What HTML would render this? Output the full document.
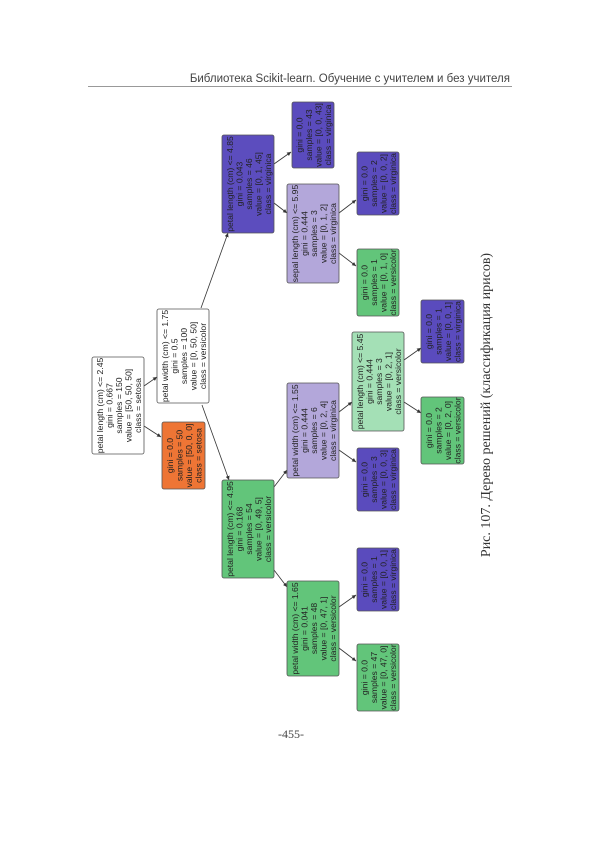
<!DOCTYPE html>
<html><head><meta charset="utf-8"><style>
html,body{margin:0;padding:0;background:#fff;}
svg{display:block;}
.t{font-family:"Liberation Sans",sans-serif;font-size:8.6px;fill:#222;text-anchor:middle;}
</style></head><body>
<svg width="600" height="849" viewBox="0 0 600 849" xmlns="http://www.w3.org/2000/svg">
<defs><marker id="a" markerWidth="6" markerHeight="6" refX="5" refY="3" orient="auto"><path d="M0,0.5 L5,3 L0,5.5 z" fill="#333"/></marker></defs>
<text x="510" y="82" font-family="Liberation Sans, sans-serif" font-size="11.5" fill="#444" text-anchor="end">Библиотека Scikit-learn. Обучение с учителем и без учителя</text>
<line x1="88" y1="86.5" x2="512" y2="86.5" stroke="#777" stroke-width="0.8"/>
<g stroke="#333" stroke-width="0.8" marker-end="url(#a)">
<line x1="144" y1="386" x2="157" y2="377"/>
<line x1="144" y1="426" x2="161" y2="437"/>
<line x1="201" y1="308" x2="228" y2="233"/>
<line x1="202" y1="405" x2="229" y2="480"/>
<line x1="274" y1="164" x2="291" y2="152"/>
<line x1="274" y1="203" x2="287" y2="213"/>
<line x1="339" y1="213" x2="356" y2="200"/>
<line x1="339" y1="253" x2="356" y2="266"/>
<line x1="274" y1="487" x2="287" y2="470"/>
<line x1="274" y1="570" x2="287" y2="587"/>
<line x1="339" y1="412" x2="352" y2="402"/>
<line x1="339" y1="450" x2="356" y2="462"/>
<line x1="404" y1="360" x2="421" y2="348"/>
<line x1="404" y1="402" x2="421" y2="413"/>
<line x1="339" y1="607" x2="356" y2="595"/>
<line x1="339" y1="648" x2="356" y2="661"/>
</g>
<g stroke="#555" stroke-width="0.8">
<rect x="92" y="357" width="52" height="97" rx="2" fill="#fff"/>
<rect x="157" y="309" width="52" height="94" rx="2" fill="#fff"/>
<rect x="162" y="422" width="43" height="67" rx="2" fill="#ee7535"/>
<rect x="222" y="135" width="52" height="98" rx="2" fill="#5c4dbe"/>
<rect x="222" y="480" width="52" height="98" rx="2" fill="#62c57a"/>
<rect x="292" y="102" width="42" height="66" rx="2" fill="#5a4bbd"/>
<rect x="287" y="184" width="52" height="99" rx="2" fill="#b3a7da"/>
<rect x="287" y="383" width="52" height="95" rx="2" fill="#b3a7da"/>
<rect x="287" y="581" width="52" height="95" rx="2" fill="#62c57a"/>
<rect x="357" y="152" width="42" height="63" rx="2" fill="#5a4bbd"/>
<rect x="357" y="249" width="42" height="67" rx="2" fill="#62c57a"/>
<rect x="352" y="332" width="52" height="99" rx="2" fill="#a4e0b6"/>
<rect x="357" y="448" width="42" height="63" rx="2" fill="#5a4bbd"/>
<rect x="357" y="548" width="42" height="63" rx="2" fill="#5a4bbd"/>
<rect x="357" y="644" width="42" height="67" rx="2" fill="#62c57a"/>
<rect x="421" y="300" width="43" height="63" rx="2" fill="#5a4bbd"/>
<rect x="421" y="397" width="43" height="67" rx="2" fill="#62c57a"/>
</g>
<g class="t">
<g transform="translate(118,405.5) rotate(-90)"><text y="-15">petal length (cm) &lt;= 2.45</text><text y="-5.5">gini = 0.667</text><text y="4">samples = 150</text><text y="13.5">value = [50, 50, 50]</text><text y="23">class = setosa</text></g>
<g transform="translate(183,356) rotate(-90)"><text y="-15">petal width (cm) &lt;= 1.75</text><text y="-5.5">gini = 0.5</text><text y="4">samples = 100</text><text y="13.5">value = [0, 50, 50]</text><text y="23">class = versicolor</text></g>
<g transform="translate(183.5,455.5) rotate(-90)"><text y="-10.5">gini = 0.0</text><text y="-1">samples = 50</text><text y="8.5">value = [50, 0, 0]</text><text y="18">class = setosa</text></g>
<g transform="translate(248,184) rotate(-90)"><text y="-15">petal length (cm) &lt;= 4.85</text><text y="-5.5">gini = 0.043</text><text y="4">samples = 46</text><text y="13.5">value = [0, 1, 45]</text><text y="23">class = virginica</text></g>
<g transform="translate(248,529) rotate(-90)"><text y="-15">petal length (cm) &lt;= 4.95</text><text y="-5.5">gini = 0.168</text><text y="4">samples = 54</text><text y="13.5">value = [0, 49, 5]</text><text y="23">class = versicolor</text></g>
<g transform="translate(313,135) rotate(-90)"><text y="-10.5">gini = 0.0</text><text y="-1">samples = 43</text><text y="8.5">value = [0, 0, 43]</text><text y="18">class = virginica</text></g>
<g transform="translate(313,233.5) rotate(-90)"><text y="-15">sepal length (cm) &lt;= 5.95</text><text y="-5.5">gini = 0.444</text><text y="4">samples = 3</text><text y="13.5">value = [0, 1, 2]</text><text y="23">class = virginica</text></g>
<g transform="translate(313,430.5) rotate(-90)"><text y="-15">petal width (cm) &lt;= 1.55</text><text y="-5.5">gini = 0.444</text><text y="4">samples = 6</text><text y="13.5">value = [0, 2, 4]</text><text y="23">class = virginica</text></g>
<g transform="translate(313,628.5) rotate(-90)"><text y="-15">petal width (cm) &lt;= 1.65</text><text y="-5.5">gini = 0.041</text><text y="4">samples = 48</text><text y="13.5">value = [0, 47, 1]</text><text y="23">class = versicolor</text></g>
<g transform="translate(378,183.5) rotate(-90)"><text y="-10.5">gini = 0.0</text><text y="-1">samples = 2</text><text y="8.5">value = [0, 0, 2]</text><text y="18">class = virginica</text></g>
<g transform="translate(378,282.5) rotate(-90)"><text y="-10.5">gini = 0.0</text><text y="-1">samples = 1</text><text y="8.5">value = [0, 1, 0]</text><text y="18">class = versicolor</text></g>
<g transform="translate(378,381.5) rotate(-90)"><text y="-15">petal length (cm) &lt;= 5.45</text><text y="-5.5">gini = 0.444</text><text y="4">samples = 3</text><text y="13.5">value = [0, 2, 1]</text><text y="23">class = versicolor</text></g>
<g transform="translate(378,479.5) rotate(-90)"><text y="-10.5">gini = 0.0</text><text y="-1">samples = 3</text><text y="8.5">value = [0, 0, 3]</text><text y="18">class = virginica</text></g>
<g transform="translate(378,579.5) rotate(-90)"><text y="-10.5">gini = 0.0</text><text y="-1">samples = 1</text><text y="8.5">value = [0, 0, 1]</text><text y="18">class = virginica</text></g>
<g transform="translate(378,677.5) rotate(-90)"><text y="-10.5">gini = 0.0</text><text y="-1">samples = 47</text><text y="8.5">value = [0, 47, 0]</text><text y="18">class = versicolor</text></g>
<g transform="translate(442.5,331.5) rotate(-90)"><text y="-10.5">gini = 0.0</text><text y="-1">samples = 1</text><text y="8.5">value = [0, 0, 1]</text><text y="18">class = virginica</text></g>
<g transform="translate(442.5,430.5) rotate(-90)"><text y="-10.5">gini = 0.0</text><text y="-1">samples = 2</text><text y="8.5">value = [0, 2, 0]</text><text y="18">class = versicolor</text></g>
</g>
<text transform="translate(490,405) rotate(-90)" font-family="Liberation Serif, serif" font-size="14" fill="#333" text-anchor="middle">Рис. 107. Дерево решений (классификация ирисов)</text>
<text x="291" y="738" font-family="Liberation Serif, serif" font-size="12" fill="#444" text-anchor="middle">-455-</text>
</svg>
</body></html>
